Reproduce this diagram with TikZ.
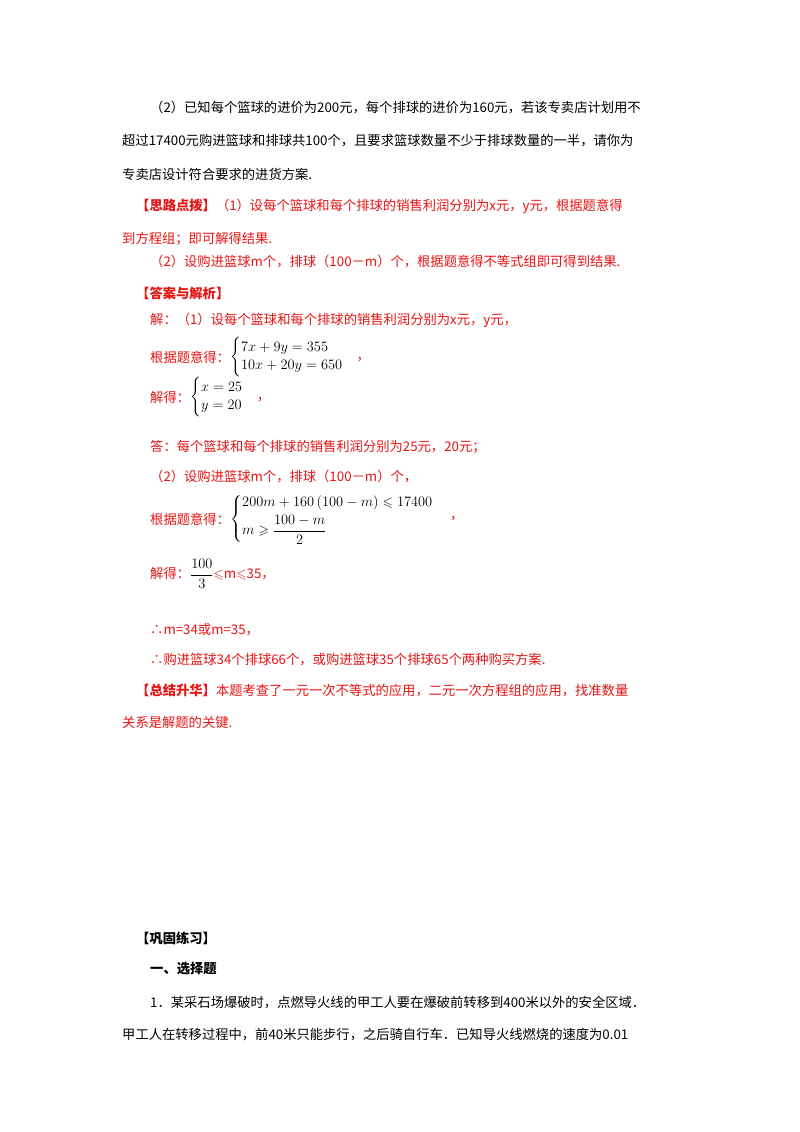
\documentclass[tikz,border=0pt]{standalone}
\usepackage{amsmath,amssymb}
\usepackage{fontspec}
\setmainfont{Noto Sans CJK SC}
\usetikzlibrary{positioning}
\definecolor{ansred}{RGB}{232,20,20}
\tikzset{
  txt/.style={anchor=west, inner sep=0pt, font=\fontsize{13.3}{15}\selectfont},
  ans/.style={txt, text=ansred},
  eq/.style={anchor=west, inner sep=0pt, text=black, font=\fontsize{13.3}{15}\selectfont}
}
\begin{document}
\begin{tikzpicture}[x=1pt,y=-1pt]
  \useasboundingbox[fill=white] (0,0) rectangle (800,1132);
  % question
  \node[txt] (q1) at (150,108) {（2）已知每个篮球的进价为200元，每个排球的进价为160元，若该专卖店计划用不};
  \node[txt] (q2) at (122,141) {超过17400元购进篮球和排球共100个，且要求篮球数量不少于排球数量的一半，请你为};
  \node[txt] (q3) at (122,174) {专卖店设计符合要求的进货方案.};
  % hint
  \node[ans] (h1) at (136,206) {\textbf{【思路点拨】}（1）设每个篮球和每个排球的销售利润分别为x元，y元，根据题意得};
  \node[ans] (h2) at (122,239) {到方程组；即可解得结果.};
  \node[ans] (h3) at (150,262) {（2）设购进篮球m个，排球（100－m）个，根据题意得不等式组即可得到结果.};
  % answer
  \node[ans] (a0) at (136,293) {\textbf{【答案与解析】}};
  \node[ans] (a1) at (150,320) {解：（1）设每个篮球和每个排球的销售利润分别为x元，y元，};
  \node[ans] (a2) at (150,357) {根据题意得：};
  \node[eq, right=0pt of a2] (s1) {$\begin{cases}7x+9y=355\\10x+20y=650\end{cases}$\textcolor{ansred}{，}};
  \node[ans] (a3) at (150,397) {解得：};
  \node[eq, right=0pt of a3] (s2) {$\begin{cases}x=25\\y=20\end{cases}$\textcolor{ansred}{，}};
  \node[ans] (a4) at (150,447) {答：每个篮球和每个排球的销售利润分别为25元，20元；};
  \node[ans] (a5) at (150,477) {（2）设购进篮球m个，排球（100－m）个，};
  \node[ans] (a6) at (150,519) {根据题意得：};
  \node[eq, right=0pt of a6] (s3) {$\begin{cases}200m+160\,(100-m)\leqslant 17400\\[4pt] m\geqslant\dfrac{100-m}{2}\end{cases}$};
  \node[ans] (c6) at (450,519) {，};
  \node[ans] (a7) at (150,574) {解得：\textcolor{black}{$\dfrac{100}{3}$}$\leqslant$m$\leqslant$35，};
  \node[ans] (a8) at (150,630) {∴m=34或m=35，};
  \node[ans] (a9) at (150,660) {∴购进篮球34个排球66个，或购进篮球35个排球65个两种购买方案.};
  % summary
  \node[ans] (m1) at (136,690) {\textbf{【总结升华】}本题考查了一元一次不等式的应用，二元一次方程组的应用，找准数量};
  \node[ans] (m2) at (122,722) {关系是解题的关键.};
  % practice
  \node[txt] (p0) at (136,938) {\textbf{【巩固练习】}};
  \node[txt] (p1) at (150,969) {\textbf{一、选择题}};
  \node[txt] (p2) at (150,1003) {1．某采石场爆破时，点燃导火线的甲工人要在爆破前转移到400米以外的安全区域．};
  \node[txt] (p3) at (122,1035) {甲工人在转移过程中，前40米只能步行，之后骑自行车．已知导火线燃烧的速度为0.01};
\end{tikzpicture}
\end{document}
